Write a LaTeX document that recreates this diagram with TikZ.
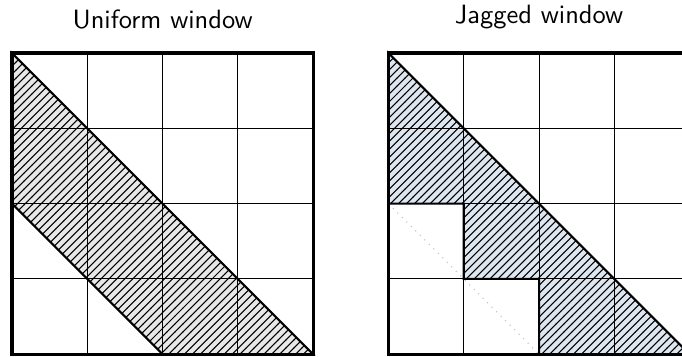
\documentclass[tikz,border=0pt]{standalone}
\usetikzlibrary{patterns}
\definecolor{hatchgray}{RGB}{232,232,232}
\definecolor{hatchblue}{RGB}{222,230,240}
\tikzset{
  gridline/.style={line width=0.4pt, black},
  band/.style={pattern=north east lines, pattern color=black},
  outline/.style={line width=0.8pt, line join=miter},
  border/.style={line width=1.2pt},
  title/.style={font=\sffamily, anchor=south},
}
\begin{document}
\begin{tikzpicture}
\clip (-0.159,-0.024) rectangle (8.898,4.704);
% ---------- Uniform window ----------
\coordinate (u00) at (0,0);
\coordinate (u44) at (4,4);
\fill[hatchgray] (0,4) -- (4,0) -- (2,0) -- (0,2) -- cycle;
\fill[band] (0,4) -- (4,0) -- (2,0) -- (0,2) -- cycle;
\draw[gridline] (u00) grid (u44);
\draw[outline] (0,4) -- (4,0) -- (2,0) -- (0,2) -- cycle;
\draw[border] (u00) rectangle (u44);
\node[title] (ut) at (2,4.2) {Uniform window};
% ---------- Jagged window ----------
\coordinate (j00) at (5,0);
\coordinate (j44) at (9,4);
\fill[hatchblue] (5,4) -- (9,0) -- (7,0) -- (7,1) -- (6,1) -- (6,2) -- (5,2) -- cycle;
\fill[band] (5,4) -- (9,0) -- (7,0) -- (7,1) -- (6,1) -- (6,2) -- (5,2) -- cycle;
\draw[gridline] (j00) grid (j44);
\draw[gray!50, dotted, line width=0.4pt] (5,2) -- (7,0);
\draw[outline] (5,4) -- (9,0) -- (7,0) -- (7,1) -- (6,1) -- (6,2) -- (5,2) -- cycle;
\draw[border] (j00) rectangle (j44);
\node[title] (jt) at (7,4.2) {Jagged window};
\end{tikzpicture}
\end{document}
